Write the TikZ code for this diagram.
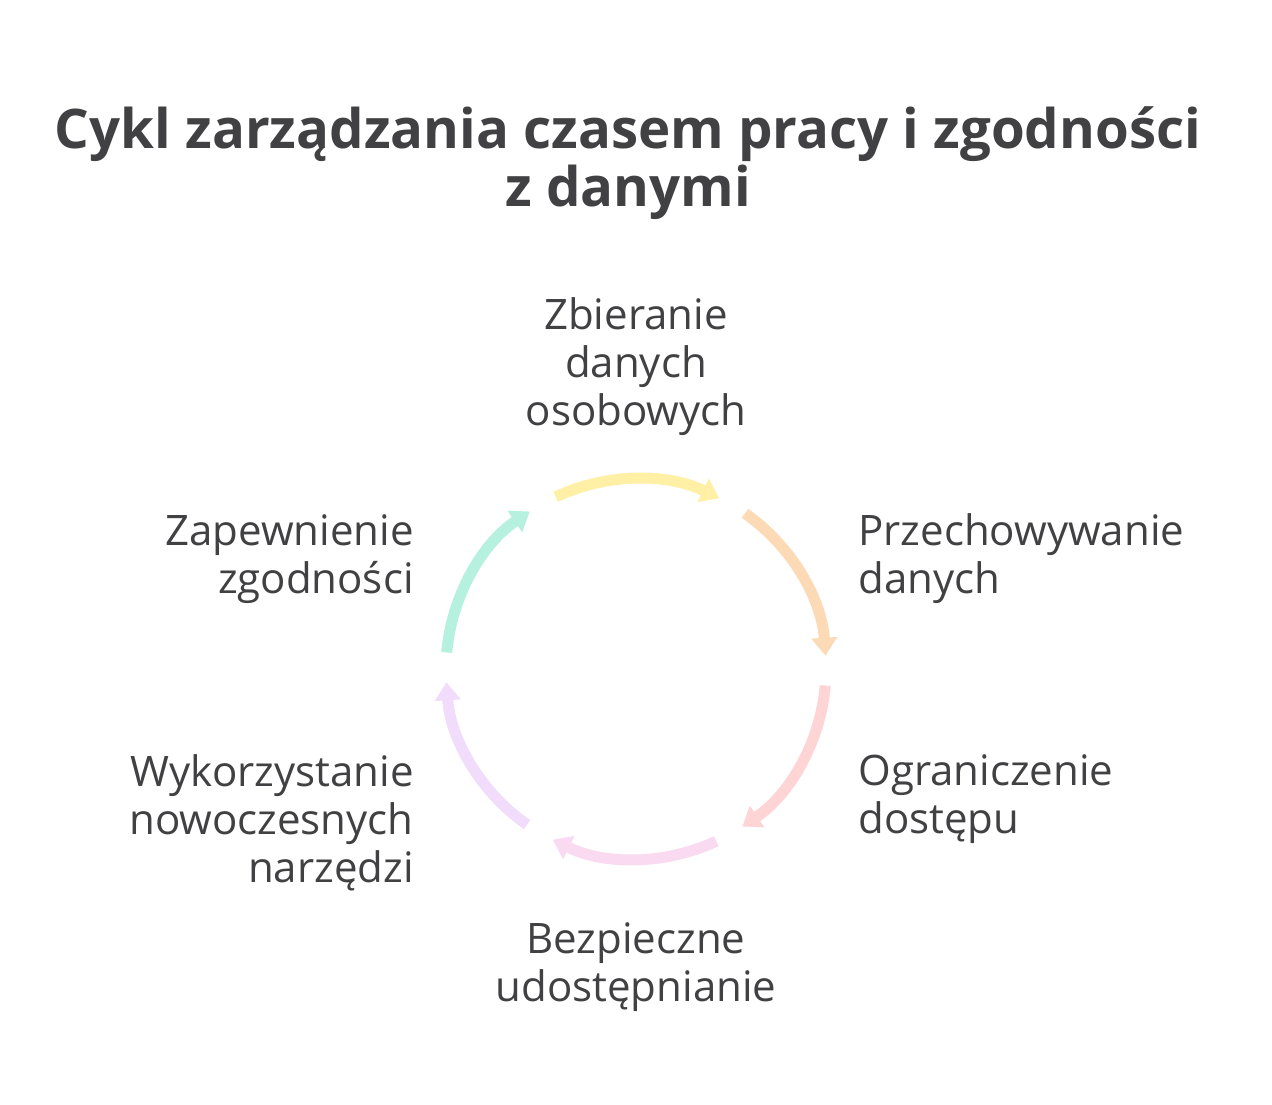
\documentclass[tikz,border=0pt]{standalone}
\usepackage{fontspec}
\setmainfont{Open Sans}
\usepackage{xcolor}
\usepackage{tikz}
\usetikzlibrary{arrows.meta, calc}

\definecolor{inkgray}{HTML}{414042}
\definecolor{cycYellow}{HTML}{FFF0A6}
\definecolor{cycOrange}{HTML}{FDDAB6}
\definecolor{cycRed}{HTML}{FFD4D4}
\definecolor{cycPink}{HTML}{FADAF1}
\definecolor{cycLilac}{HTML}{F1DCFB}
\definecolor{cycMint}{HTML}{B6F1DF}

\begin{document}
\begin{tikzpicture}[x=0.5pt, y=0.5pt,
    lbl/.style={inner sep=0pt, text=inkgray, font=\fontsize{21}{24}\selectfont},
    cycarrow/.style={line width=5.5pt, -{Triangle[length=9pt, width=12.5pt]}}]
    \useasboundingbox[fill=white] (0,0) rectangle (1272,1104);

    % Title
    \node[inner sep=0pt, text=inkgray, align=center,
          font=\fontsize{27.3}{29}\selectfont\bfseries] (title) at (628,941)
        {Cykl zarządzania czasem pracy i zgodności\\z danymi};

    % Cycle of arrows
    \coordinate (c) at (636,435);
    \foreach \mid/\col [count=\i] in {90/cycYellow, 30/cycOrange, -30/cycRed,
                                      -90/cycPink, -150/cycLilac, 150/cycMint} {
        \coordinate (s\i) at ($(c)+(\mid+25:190)$);
        \draw[cycarrow, \col] (s\i) arc[start angle=\mid+25, end angle=\mid-26, radius=190];
    }

    % Steps
    \node[lbl, align=center] (collect) at (636,737) {Zbieranie\\danych\\osobowych};
    \node[lbl, align=left, anchor=west] (store) at (858,545) {Przechowywanie\\danych};
    \node[lbl, align=left, anchor=west] (limit) at (858,305) {Ograniczenie\\dostępu};
    \node[lbl, align=center] (share) at (636,137) {Bezpieczne\\udostępnianie};
    \node[lbl, align=right, anchor=east] (tools) at (414,281) {Wykorzystanie\\nowoczesnych\\narzędzi};
    \node[lbl, align=right, anchor=east] (comply) at (414,545) {Zapewnienie\\zgodności};
\end{tikzpicture}
\end{document}
